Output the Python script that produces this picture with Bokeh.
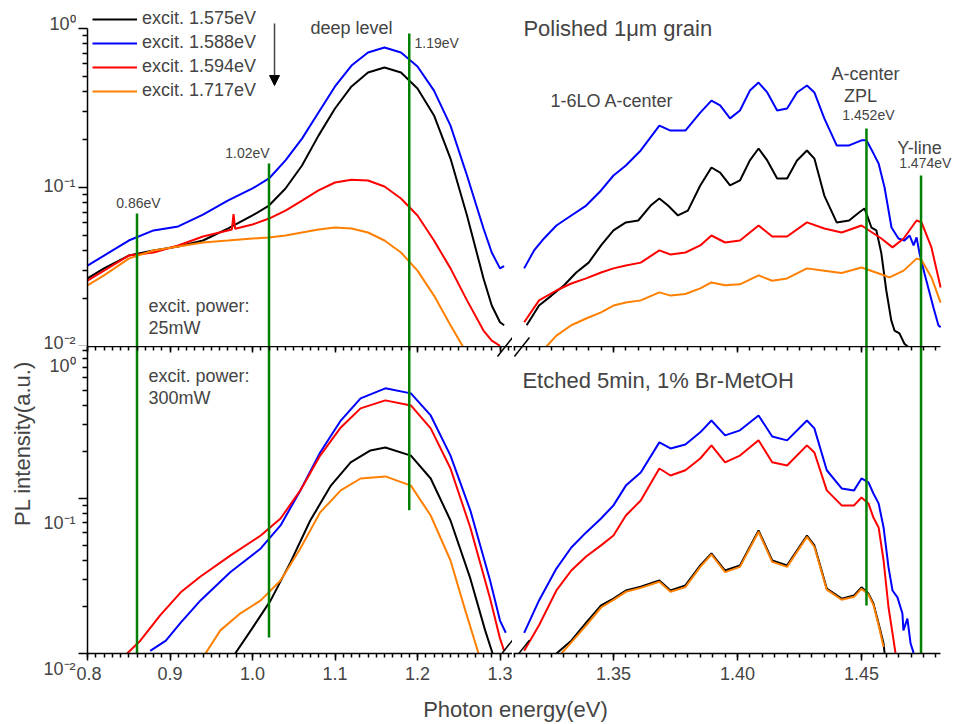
import math
from bokeh.plotting import figure
from bokeh.models import (Range1d, LinearAxis, FixedTicker, Label, Legend, LegendItem,
                          Arrow, NormalHead, CustomJSTickFormatter)
from bokeh.layouts import column, row
from bokeh.embed import file_html
from bokeh.resources import INLINE

FONT = "Liberation Sans"
C_BLACK, C_BLUE, C_RED, C_ORANGE, C_GREEN = "#000000", "#0000ff", "#ff0000", "#ff8000", "#008000"

# ---------------- data: top panel (Polished), left segment ----------------
tl_E = [0.80, 0.82, 0.85, 0.88, 0.91, 0.94, 0.97, 1.00, 1.02, 1.04, 1.06, 1.08, 1.10, 1.12,
        1.14, 1.16, 1.18, 1.20, 1.22, 1.24, 1.26, 1.28, 1.29, 1.30, 1.305]
tl_blue = [0.0323, 0.0373, 0.0464, 0.0537, 0.0569, 0.0676, 0.0828, 0.0986, 0.114, 0.148, 0.203,
           0.296, 0.432, 0.585, 0.706, 0.760, 0.706, 0.577, 0.407, 0.245, 0.119, 0.0552, 0.039,
           0.031, 0.032]
tl_black = [0.0268, 0.031, 0.0373, 0.0402, 0.0426, 0.0464, 0.0552, 0.0667, 0.077, 0.0986, 0.1375,
            0.212, 0.314, 0.432, 0.529, 0.569, 0.529, 0.419, 0.284, 0.152, 0.0667, 0.0268, 0.0181,
            0.0142, 0.0136]
tl_red_E = [0.80, 0.82, 0.85, 0.88, 0.91, 0.94, 0.97, 0.975, 0.977, 0.979, 1.00, 1.02, 1.04, 1.06,
            1.08, 1.10, 1.12, 1.14, 1.16, 1.18, 1.20, 1.22, 1.24, 1.26, 1.28, 1.29, 1.30]
tl_red = [0.026, 0.030, 0.0373, 0.039, 0.0432, 0.0492, 0.0537, 0.0545, 0.068, 0.055, 0.0585,
          0.0638, 0.0716, 0.0828, 0.0958, 0.1075, 0.112, 0.1107, 0.1015, 0.0853, 0.0667, 0.0464,
          0.031, 0.0195, 0.0126, 0.0109, 0.0101]
tl_orange_E = [0.80, 0.82, 0.85, 0.88, 0.91, 0.94, 0.97, 1.00, 1.02, 1.04, 1.06, 1.08, 1.10, 1.12,
               1.14, 1.16, 1.18, 1.20, 1.22, 1.24, 1.255]
tl_orange = [0.0242, 0.028, 0.0357, 0.0402, 0.0426, 0.0451, 0.0464, 0.0478, 0.0485, 0.0499,
             0.0521, 0.0544, 0.056, 0.0552, 0.0521, 0.0464, 0.039, 0.030, 0.0209, 0.0136, 0.010]

# ---------------- top panel, right segment ----------------
tr_black_E = [1.315, 1.320, 1.325, 1.330, 1.335, 1.340, 1.345, 1.350, 1.355, 1.360, 1.365, 1.3685,
              1.372, 1.376, 1.380, 1.385, 1.3895, 1.393, 1.397, 1.401, 1.405, 1.4085, 1.412, 1.416,
              1.420, 1.424, 1.428, 1.431, 1.435, 1.440, 1.445, 1.449, 1.4512, 1.452, 1.454, 1.456,
              1.458, 1.460, 1.462, 1.4633, 1.4653, 1.4673, 1.469]
tr_black = [0.0136, 0.0181, 0.0209, 0.0242, 0.0292, 0.0337, 0.0432, 0.0537, 0.0603, 0.062, 0.077,
            0.0853, 0.077, 0.0667, 0.0716, 0.103, 0.1336, 0.124, 0.103, 0.1107, 0.148, 0.176,
            0.148, 0.114, 0.114, 0.148, 0.171, 0.152, 0.089, 0.0603, 0.062, 0.0696, 0.0738,
            0.0686, 0.056, 0.0537, 0.0385, 0.0225, 0.0146, 0.0126, 0.0121, 0.0104, 0.0099]
tr_blue_E = [1.314, 1.318, 1.322, 1.327, 1.333, 1.339, 1.345, 1.350, 1.355, 1.361, 1.3685, 1.373,
             1.379, 1.385, 1.3895, 1.393, 1.397, 1.401, 1.405, 1.4085, 1.412, 1.416, 1.420, 1.424,
             1.428, 1.431, 1.435, 1.440, 1.445, 1.450, 1.452, 1.4548, 1.4569, 1.4593, 1.4621,
             1.4649, 1.4673, 1.4694, 1.471, 1.4722, 1.4734, 1.4754, 1.479, 1.481, 1.4819]
tr_blue = [0.031, 0.0402, 0.0478, 0.0577, 0.0667, 0.077, 0.0958, 0.119, 0.1375, 0.171, 0.245,
           0.228, 0.228, 0.296, 0.352, 0.328, 0.272, 0.305, 0.407, 0.457, 0.396, 0.305, 0.314,
           0.396, 0.438, 0.396, 0.272, 0.184, 0.184, 0.198, 0.198, 0.164, 0.1416, 0.100, 0.056,
           0.0478, 0.0464, 0.0499, 0.0432, 0.0485, 0.0385, 0.0288, 0.0176, 0.0136, 0.0132]
tr_red_E = [1.314, 1.320, 1.327, 1.333, 1.339, 1.345, 1.350, 1.355, 1.361, 1.3685, 1.373, 1.379,
            1.385, 1.3895, 1.395, 1.401, 1.4085, 1.414, 1.420, 1.428, 1.435, 1.442, 1.450, 1.458,
            1.4625, 1.467, 1.4722, 1.4742, 1.4782, 1.4819]
tr_red = [0.0142, 0.0195, 0.0225, 0.0249, 0.0268, 0.0292, 0.031, 0.0323, 0.0337, 0.0402, 0.0379,
          0.039, 0.0432, 0.0499, 0.0451, 0.0464, 0.0577, 0.0492, 0.0492, 0.0603, 0.0552, 0.0521,
          0.0577, 0.0478, 0.042, 0.0478, 0.062, 0.0603, 0.042, 0.0235]
tr_orange_E = [1.323, 1.327, 1.333, 1.339, 1.345, 1.350, 1.355, 1.361, 1.3685, 1.373, 1.379, 1.385,
               1.3895, 1.395, 1.401, 1.4085, 1.414, 1.420, 1.428, 1.435, 1.442, 1.450, 1.457,
               1.4613, 1.467, 1.4722, 1.4742, 1.4782, 1.4819]
tr_orange = [0.010, 0.0117, 0.0136, 0.015, 0.0164, 0.0181, 0.0189, 0.0195, 0.0219, 0.0209, 0.0214,
             0.0232, 0.0253, 0.0243, 0.0246, 0.028, 0.0259, 0.0268, 0.031, 0.030, 0.029, 0.0314,
             0.0288, 0.0272, 0.030, 0.0357, 0.035, 0.0272, 0.0189]

# ---------------- bottom panel (Etched), left segment ----------------
bl_blue_E = [0.876, 0.895, 0.913, 0.937, 0.973, 1.010, 1.034, 1.058, 1.082, 1.107, 1.131, 1.161,
             1.192, 1.216, 1.240, 1.264, 1.288, 1.300, 1.307]
bl_blue = [0.0104, 0.0121, 0.0158, 0.022, 0.0334, 0.0476, 0.067, 0.1127, 0.198, 0.318, 0.442,
           0.513, 0.476, 0.343, 0.189, 0.0838, 0.0296, 0.0163, 0.0136]
bl_red_E = [0.848, 0.864, 0.888, 0.913, 0.937, 0.973, 1.010, 1.034, 1.058, 1.082, 1.107, 1.131,
            1.161, 1.192, 1.216, 1.240, 1.264, 1.288, 1.300, 1.305]
bl_red = [0.010, 0.0121, 0.0176, 0.0248, 0.0314, 0.0428, 0.0577, 0.0743, 0.1127, 0.189, 0.287,
          0.381, 0.429, 0.398, 0.283, 0.156, 0.065, 0.0226, 0.0125, 0.0104]
bl_black_E = [0.979, 0.998, 1.022, 1.046, 1.070, 1.095, 1.119, 1.143, 1.161, 1.192, 1.216, 1.240,
              1.264, 1.282, 1.291]
bl_black = [0.010, 0.0141, 0.022, 0.0387, 0.0721, 0.121, 0.171, 0.204, 0.213, 0.189, 0.1345,
            0.0721, 0.0305, 0.0141, 0.010]
bl_orange_E = [0.943, 0.961, 0.985, 1.010, 1.034, 1.058, 1.082, 1.107, 1.131, 1.161, 1.192, 1.216,
               1.240, 1.258, 1.274]
bl_orange = [0.010, 0.0141, 0.0181, 0.022, 0.0296, 0.0476, 0.0813, 0.1127, 0.1345, 0.1387, 0.121,
             0.0776, 0.0398, 0.0189, 0.010]

# ---------------- bottom panel, right segment ----------------
br_blue_E = [1.314, 1.320, 1.327, 1.333, 1.339, 1.345, 1.350, 1.355, 1.361, 1.3685, 1.373, 1.379,
             1.385, 1.3895, 1.395, 1.401, 1.4085, 1.414, 1.420, 1.428, 1.431, 1.436, 1.442, 1.447,
             1.450, 1.4528, 1.4548, 1.4569, 1.4589, 1.4609, 1.4625, 1.4645, 1.4665, 1.4669,
             1.4685, 1.4698, 1.471]
br_blue = [0.0136, 0.022, 0.0353, 0.0483, 0.0604, 0.0743, 0.0902, 0.121, 0.147, 0.23, 0.21, 0.223,
           0.267, 0.318, 0.255, 0.275, 0.343, 0.251, 0.237, 0.318, 0.283, 0.152, 0.116, 0.1127,
           0.1345, 0.1268, 0.1076, 0.0929, 0.065, 0.0359, 0.0255, 0.023, 0.0181, 0.0141, 0.0168,
           0.0116, 0.0101]
br_red_E = [1.314, 1.320, 1.327, 1.333, 1.339, 1.345, 1.350, 1.355, 1.361, 1.3685, 1.373, 1.379,
            1.385, 1.3895, 1.395, 1.401, 1.4085, 1.414, 1.420, 1.428, 1.431, 1.436, 1.442, 1.447,
            1.450, 1.4528, 1.4548, 1.4569, 1.4589, 1.4609, 1.4625, 1.4637]
br_red = [0.0104, 0.0152, 0.0255, 0.0343, 0.0422, 0.0498, 0.0577, 0.0776, 0.097, 0.156, 0.1406,
          0.152, 0.181, 0.22, 0.171, 0.189, 0.237, 0.171, 0.163, 0.22, 0.198, 0.1127, 0.0902,
          0.0902, 0.1014, 0.0929, 0.0753, 0.065, 0.0398, 0.0198, 0.0135, 0.0101]
br_black_E = [1.327, 1.333, 1.339, 1.345, 1.350, 1.355, 1.361, 1.3685, 1.373, 1.379, 1.385, 1.3895,
              1.395, 1.401, 1.4085, 1.414, 1.420, 1.428, 1.431, 1.436, 1.442, 1.447, 1.450, 1.4528,
              1.4548, 1.4569, 1.4589, 1.4593]
br_black = [0.010, 0.0121, 0.0158, 0.0204, 0.0226, 0.0255, 0.027, 0.0296, 0.0255, 0.0275, 0.037,
            0.0442, 0.0343, 0.037, 0.0622, 0.0398, 0.037, 0.0577, 0.0498, 0.0262, 0.0226, 0.0237,
            0.0267, 0.0244, 0.021, 0.0156, 0.0116, 0.0101]
br_orange_E = [1.329, 1.333, 1.339, 1.345, 1.350, 1.355, 1.361, 1.3685, 1.373, 1.379, 1.385,
               1.3895, 1.395, 1.401, 1.4085, 1.414, 1.420, 1.428, 1.431, 1.436, 1.442, 1.447,
               1.450, 1.4528, 1.4548, 1.4569, 1.4589]
br_orange = [0.010, 0.0118, 0.0152, 0.0198, 0.0222, 0.0250, 0.0265, 0.0290, 0.0250, 0.0268, 0.0362,
             0.0435, 0.0335, 0.0362, 0.0610, 0.0390, 0.0362, 0.0565, 0.0488, 0.0258, 0.0222,
             0.0232, 0.0262, 0.0240, 0.0206, 0.0152, 0.0110]

# ---------------- marker lines (green) ----------------
mark_left_E = [0.86, 1.02, 1.19]
mark_left_top = [0.0686, 0.1416, 0.93]          # upper end in the top panel
mark_left_bottom = [0.004, 0.0127, 0.0838]      # lower end in the bottom panel
mark_right_E = [1.452, 1.474]
mark_right_top = [0.235, 0.119]
mark_right_bottom = [0.0204, 0.004]

series_names = ["excit. 1.575eV", "excit. 1.588eV", "excit. 1.594eV", "excit. 1.717eV"]

left_ticks = [0.8, 0.9, 1.0, 1.1, 1.2, 1.3]
left_tick_labels = ["0.8", "0.9", "1.0", "1.1", "1.2", "1.3"]
right_ticks = [1.35, 1.40, 1.45]
right_tick_labels = ["1.35", "1.40", "1.45"]
left_minor = [round(0.80 + 0.01 * i, 3) for i in range(52)]
right_minor = [round(1.31 + 0.005 * i, 3) for i in range(35)]
y_major = [0.01, 0.1, 1.0]
y_minor = [m * d for d in (0.01, 0.1) for m in range(2, 10)]
y_tick_text = ["10\u2070", "10\u207b\u00b9", "10\u207b\u00b2"]

# ---------------- geometry (pixels) ----------------
X_LEFT = (0.8, 1.31515)
X_RIGHT = (1.3097, 1.4883)
X_RIGHT_AXIS = (1.3097, 1.4819)
Y_TOP = (0.01, 1.50)
Y_BOT = (0.01, 0.955)
W_S, W_L, W_R = 76, 436, 444
H_T, H_B, H_X = 346, 347, 30


def base_fig(w, h, xr, yr, yaxis, **borders):
    p = figure(width=w, height=h, x_range=Range1d(*xr), y_range=Range1d(*yr), y_axis_type="log",
               x_axis_location=None, y_axis_location="left" if yaxis else None,
               toolbar_location=None, output_backend="svg", outline_line_color=None,
               background_fill_color="white", border_fill_color="white", **borders)
    p.grid.visible = False
    if yaxis:
        ax = p.yaxis[0]
        ax.ticker = FixedTicker(ticks=y_major, minor_ticks=y_minor)
        ax.formatter = CustomJSTickFormatter(code="return ''")
        ax.axis_line_width = 1.5
        ax.major_tick_line_width = 1.5
        ax.minor_tick_line_width = 1.5
        ax.major_tick_out, ax.major_tick_in = 9, 0
        ax.minor_tick_out, ax.minor_tick_in = 5, 0
        ax.major_label_text_font_size = "0px"
        ax.major_label_standoff = 0
    return p


def add_x_axes(p, ticks, labels, minor, bounds):
    below = LinearAxis(ticker=FixedTicker(ticks=ticks, minor_ticks=minor), bounds=bounds,
                       major_label_overrides={t: l for t, l in zip(ticks, labels)})
    below.axis_line_width = 1.5
    below.major_tick_line_width = 1.5
    below.minor_tick_line_width = 1.5
    below.major_tick_out, below.major_tick_in = 7, 0
    below.minor_tick_out, below.minor_tick_in = 4, 0
    below.major_label_text_font = FONT
    below.major_label_text_font_size = "18px"
    below.major_label_standoff = 6
    p.add_layout(below, "below")
    above = LinearAxis(ticker=FixedTicker(ticks=ticks, minor_ticks=minor), bounds=bounds,
                       formatter=CustomJSTickFormatter(code="return ''"))
    above.axis_line_width = 1.5
    above.major_tick_line_width = 1.5
    above.minor_tick_line_width = 1.5
    above.major_tick_out, above.major_tick_in = 0, 6
    above.minor_tick_out, above.minor_tick_in = 0, 4
    above.major_label_text_font_size = "0px"
    above.major_label_standoff = 0
    p.add_layout(above, "above")


def draw(p, E_list, v_list, color):
    return p.line(E_list, v_list, line_color=color, line_width=2)


def lab(p, x, y, text, size="18px", align="left", angle=0.0):
    p.add_layout(Label(x=x, y=y, text=text, text_font=FONT, text_font_size=size,
                       text_align=align, text_baseline="middle", angle=angle))


def slash(p, x0, y0, x1, y1):
    p.add_layout(Arrow(end=None, x_start=x0, y_start=y0, x_end=x1, y_end=y1,
                       line_color="black", line_width=1.5))


# ---------------- top-left ----------------
tl = base_fig(W_L, H_T, X_LEFT, Y_TOP, True, min_border_left=11, min_border_right=0,
              min_border_top=0, min_border_bottom=0)
tl.yaxis[0].bounds = (0.01, 1.0)
r_bk = draw(tl, tl_E, tl_black, C_BLACK)
r_bl = draw(tl, tl_E, tl_blue, C_BLUE)
r_rd = draw(tl, tl_red_E, tl_red, C_RED)
r_or = draw(tl, tl_orange_E, tl_orange, C_ORANGE)
tl.segment(mark_left_E, mark_left_top, mark_left_E, [0.004] * 3, line_color=C_GREEN, line_width=2.5)
legend = Legend(items=[LegendItem(label=n, renderers=[r]) for n, r in
                       zip(series_names, [r_bk, r_bl, r_rd, r_or])],
                location=(5, 245), padding=0, margin=0, spacing=3, glyph_width=45,
                glyph_height=20, label_height=20, label_standoff=5,
                label_text_font=FONT, label_text_font_size="18px",
                border_line_color=None, background_fill_alpha=0)
tl.add_layout(legend)
tl.add_layout(Arrow(end=NormalHead(size=10, fill_color="black", line_color="black"),
                    x_start=1.0267, y_start=1.075, x_end=1.0267, y_end=0.438,
                    line_color="#444444", line_width=1.5))
lab(tl, 1.0703, 1.0, "deep level")
lab(tl, 1.1964, 0.816, "1.19eV", size="14px")
lab(tl, 0.9939, 0.164, "1.02eV", size="14px", align="center")
lab(tl, 0.8618, 0.0794, "0.86eV", size="14px", align="center")
lab(tl, 0.8739, 0.0181, "excit. power:")
lab(tl, 0.8739, 0.0131, "25mW")
slash(tl, 1.2970, 0.00865, 1.3152, 0.0114)

# ---------------- top-right ----------------
tr = base_fig(W_R, H_T, X_RIGHT, Y_TOP, False, min_border_left=1, min_border_right=0,
              min_border_top=0, min_border_bottom=0)
draw(tr, tr_black_E, tr_black, C_BLACK)
draw(tr, tr_blue_E, tr_blue, C_BLUE)
draw(tr, tr_red_E, tr_red, C_RED)
draw(tr, tr_orange_E, tr_orange, C_ORANGE)
tr.segment(mark_right_E, mark_right_top, mark_right_E, [0.004] * 2, line_color=C_GREEN, line_width=2.5)
lab(tr, 1.3137, 1.0, "Polished 1\u03bcm grain", size="22px")
lab(tr, 1.3246, 0.352, "1-6LO A-center")
lab(tr, 1.4516, 0.521, "A-center", align="center")
lab(tr, 1.4496, 0.374, "ZPL", align="center")
lab(tr, 1.4528, 0.284, "1.452eV", size="14px", align="center")
lab(tr, 1.4734, 0.176, "Y-line", align="center")
lab(tr, 1.4757, 0.1416, "1.474eV", size="14px", align="center")
slash(tr, 1.31008, 0.00865, 1.31613, 0.0114)

# ---------------- bottom-left ----------------
bl = base_fig(W_L, H_B, X_LEFT, Y_BOT, True, min_border_left=11, min_border_right=0,
              min_border_top=0, min_border_bottom=40)
add_x_axes(bl, left_ticks, left_tick_labels, left_minor, "auto")
draw(bl, bl_black_E, bl_black, C_BLACK)
draw(bl, bl_blue_E, bl_blue, C_BLUE)
draw(bl, bl_red_E, bl_red, C_RED)
draw(bl, bl_orange_E, bl_orange, C_ORANGE)
bl.segment(mark_left_E, [2.0] * 3, mark_left_E, mark_left_bottom, line_color=C_GREEN, line_width=2.5)
lab(bl, 0.8739, 0.612, "excit. power:")
lab(bl, 0.8739, 0.442, "300mW")
slash(bl, 1.2970, 0.824, 1.3152, 1.093)
slash(bl, 1.2970, 0.0092, 1.3152, 0.0122)

# ---------------- bottom-right ----------------
br = base_fig(W_R, H_B, X_RIGHT, Y_BOT, False, min_border_left=1, min_border_right=0,
              min_border_top=0, min_border_bottom=40)
add_x_axes(br, right_ticks, right_tick_labels, right_minor, X_RIGHT_AXIS)
draw(br, br_black_E, br_black, C_BLACK)
draw(br, br_blue_E, br_blue, C_BLUE)
draw(br, br_red_E, br_red, C_RED)
draw(br, br_orange_E, br_orange, C_ORANGE)
br.segment(mark_right_E, [2.0] * 2, mark_right_E, mark_right_bottom, line_color=C_GREEN, line_width=2.5)
lab(br, 1.3133, 0.577, "Etched 5min, 1% Br-MetOH", size="22px")
slash(br, 1.31008, 0.824, 1.31613, 1.093)
slash(br, 1.31008, 0.0092, 1.31613, 0.0122)

# ---------------- left strip: y tick labels and y title ----------------
H_ALL = H_T + H_B
st = figure(width=W_S, height=H_ALL, x_range=Range1d(0, W_S), y_range=Range1d(0, H_ALL),
            x_axis_location=None, y_axis_location=None, toolbar_location=None,
            output_backend="svg", outline_line_color=None, min_border=0,
            background_fill_color="white", border_fill_color="white")
st.grid.visible = False
strip_label_y = [670, 508, 351, 328, 171, 25]
for yy, tx in zip(strip_label_y, y_tick_text + y_tick_text):
    st.add_layout(Label(x=75, y=yy, text=tx, text_font=FONT, text_font_size="18px",
                        text_align="right", text_baseline="middle"))
st.add_layout(Label(x=22, y=250, text="PL intensity(a.u.)", text_font=FONT, text_font_size="22px",
                    text_align="center", text_baseline="middle", angle=math.pi / 2))

# ---------------- x-axis title strip ----------------
xt = figure(width=W_S + W_L + W_R, height=H_X, x_range=Range1d(0, W_S + W_L + W_R),
            y_range=Range1d(0, H_X), x_axis_location=None, y_axis_location=None,
            toolbar_location=None, output_backend="svg", outline_line_color=None, min_border=0,
            background_fill_color="white", border_fill_color="white")
xt.grid.visible = False
xt.add_layout(Label(x=515, y=14, text="Photon energy(eV)", text_font=FONT, text_font_size="22px",
                    text_align="center", text_baseline="middle"))

panels = column(row(tl, tr), row(bl, br))
layout = column(row(st, panels), xt)
open("out.html", "w").write(file_html(layout, INLINE))
